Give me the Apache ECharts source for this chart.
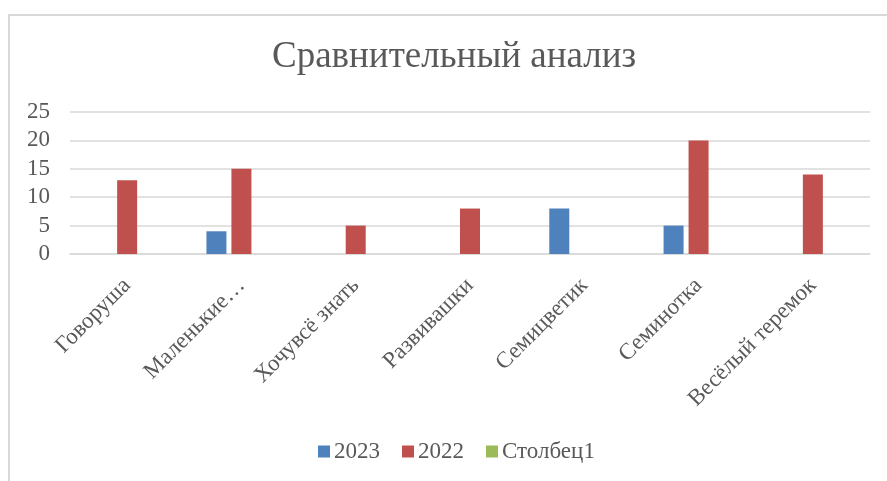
<!DOCTYPE html>
<html>
<head>
<meta charset="utf-8">
<script src="https://cdn.jsdelivr.net/npm/echarts@6/dist/echarts.min.js"></script>
<style>
  html, body { margin: 0; padding: 0; background: #fff; overflow: hidden; }
  #frame { position: absolute; left: 8px; top: 14px; width: 900px; height: 500px;
           border-left: 2px solid #d9d9d9; border-top: 2px solid #d9d9d9; }
  #chart { position: absolute; left: 0; top: 0; width: 887px; height: 481px; }
</style>
</head>
<body>
<div id="frame"></div>
<div id="chart"></div>
<script>
// данные графика
const categories = ['Говоруша', 'Маленькие…', 'Хочувсё знать', 'Развивашки', 'Семицветик', 'Семинотка', 'Весёлый теремок'];
const values2023 = [null, 4, null, null, 8, 5, null];
const values2022 = [13, 15, 5, 8, null, 20, 14];
const valuesCol1 = [null, null, null, null, null, null, null];
const seriesNames = ['2023', '2022', 'Столбец1'];
const COLORS = ['#4f81bd', '#c0504d', '#9bbb59'];

const FONT = "'Liberation Serif', 'Times New Roman', serif";
const TEXT = '#595959';

const chart = echarts.init(document.getElementById('chart'));
chart.setOption({
  animation: false,
  color: COLORS,
  title: {
    text: 'Сравнительный анализ',
    left: 267, top: 34,
    textStyle: { fontFamily: FONT, fontSize: 37, fontWeight: 'normal', color: TEXT },
  },
  legend: {
    bottom: 13, left: 313,
    itemWidth: 12, itemHeight: 12, itemGap: 22,
    icon: 'rect',
    textStyle: { fontFamily: FONT, fontSize: 23, color: TEXT, padding: [0, 0, 0, -1] },
    data: seriesNames,
  },
  grid: { left: 70, right: 17, top: 112, bottom: 227 },
  xAxis: {
    type: 'category', data: categories,
    axisLine: { lineStyle: { color: '#d9d9d9', width: 1.5 } },
    axisTick: { show: false },
    axisLabel: { rotate: 45, margin: 28, interval: 0, fontFamily: FONT, fontSize: 23, color: TEXT },
  },
  yAxis: {
    type: 'value', min: 0, max: 25, interval: 5,
    axisLine: { show: false }, axisTick: { show: false },
    splitLine: { lineStyle: { color: '#d9d9d9', width: 1.5 } },
    axisLabel: { margin: 20, fontFamily: FONT, fontSize: 23, color: TEXT },
  },
  series: [
    { name: seriesNames[0], type: 'bar', data: values2023, barWidth: 20, barGap: '25%' },
    { name: seriesNames[1], type: 'bar', data: values2022, barWidth: 20, barGap: '25%' },
    { name: seriesNames[2], type: 'bar', data: valuesCol1, barWidth: 20, barGap: '25%' },
  ],
});
</script>
</body>
</html>
